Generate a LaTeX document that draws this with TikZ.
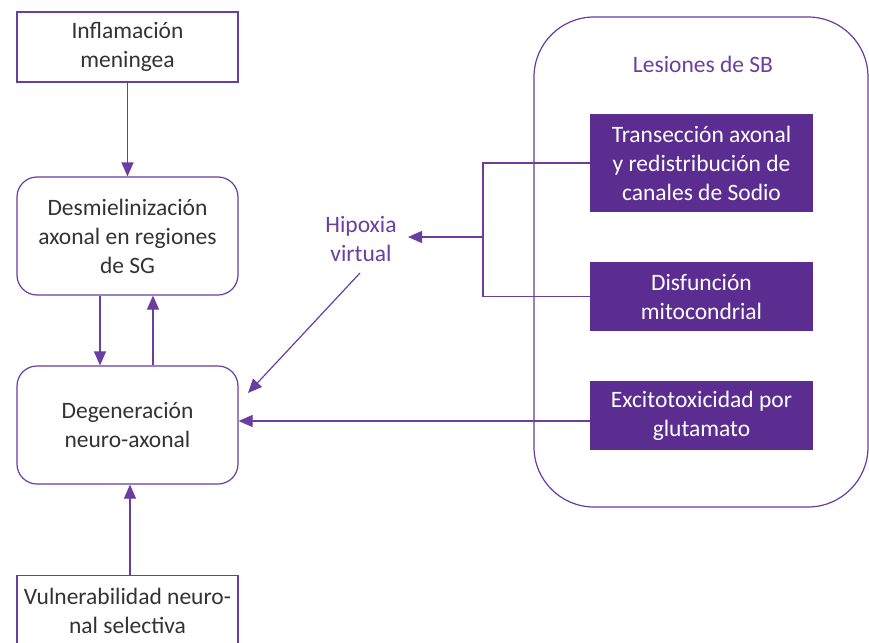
\documentclass[tikz,border=0pt]{standalone}
\usepackage{fontspec}
\setmainfont{Carlito}
\usetikzlibrary{arrows.meta}
\definecolor{pline}{HTML}{6A3DA0}
\definecolor{pfill}{HTML}{5C2D91}
\definecolor{ptext}{HTML}{6B3FA0}
\definecolor{dtext}{HTML}{333333}
\tikzset{
  txt/.style={font=\fontsize{23.5}{29}\selectfont, align=center},
  wbox/.style={txt, draw=pline, line width=1.2pt, text=dtext, minimum width=221pt, inner sep=0pt},
  rbox/.style={wbox, rounded corners=20pt, minimum height=118pt},
  sbox/.style={wbox, minimum height=70pt},
  fbox/.style={txt, fill=pfill, text=white, minimum width=223pt, inner sep=0pt},
  arr/.style={draw=pline, line width=1.2pt, -{Triangle[length=14pt,width=12pt]}},
  ln/.style={draw=pline, line width=1.2pt},
}
\begin{document}
\begin{tikzpicture}[x=1pt,y=-1pt]
\useasboundingbox (0,0) rectangle (869,642);
\clip (0,0) rectangle (869,642);
\fill[white] (0,0) rectangle (869,642);
% big box
\node[draw=pline, line width=1.2pt, rounded corners=60pt, minimum width=334pt, minimum height=490pt, inner sep=0pt] (sb) at (701,262) {};
\node[txt, text=ptext] (sbl) at (703,64) {Lesiones de SB};
% left column
\node[sbox] (inf) at (127.5,47) {Inflamación\\meningea};
\node[rbox] (des) at (127.5,236) {Desmielinización\\axonal en regiones\\de SG};
\node[rbox] (deg) at (127.5,425) {Degeneración\\neuro-axonal};
\node[wbox, minimum height=70pt, anchor=north] (vul) at (127.5,575) {Vulnerabilidad neuro-\\nal selectiva};
% right boxes
\node[fbox, minimum height=98pt] (tra) at (701.5,163) {Transección axonal\\y redistribución de\\canales de Sodio};
\node[fbox, minimum height=69pt] (dis) at (701.5,296.5) {Disfunción\\mitocondrial};
\node[fbox, minimum height=69pt] (exc) at (701.5,415.5) {Excitotoxicidad por\\glutamato};
% hypoxia
\node[txt, text=ptext, inner sep=12pt] (hip) at (361,239) {Hipoxia\\virtual};
% connectors
\draw[arr] (inf.south) -- (des.north);
\draw[arr] ([xshift=-27.5pt]des.south) -- ([xshift=-27.5pt]deg.north);
\draw[arr] ([xshift=25.5pt]deg.north) -- ([xshift=25.5pt]des.south);
\draw[arr] ([xshift=2.5pt]vul.north) -- ([xshift=2.5pt]deg.south);
\draw[arr] (exc.west |- 0,421) -- (deg.east |- 0,421);
\coordinate (j) at (483,237);
\draw[ln] (tra.west) -| (j) |- (dis.west);
\coordinate (ht) at (408,237);
\draw[arr] (j) -- (ht);
\coordinate (ds) at (360,273);
\coordinate (dt) at (248,393);
\draw[arr] (ds) -- (dt);
\end{tikzpicture}
\end{document}
